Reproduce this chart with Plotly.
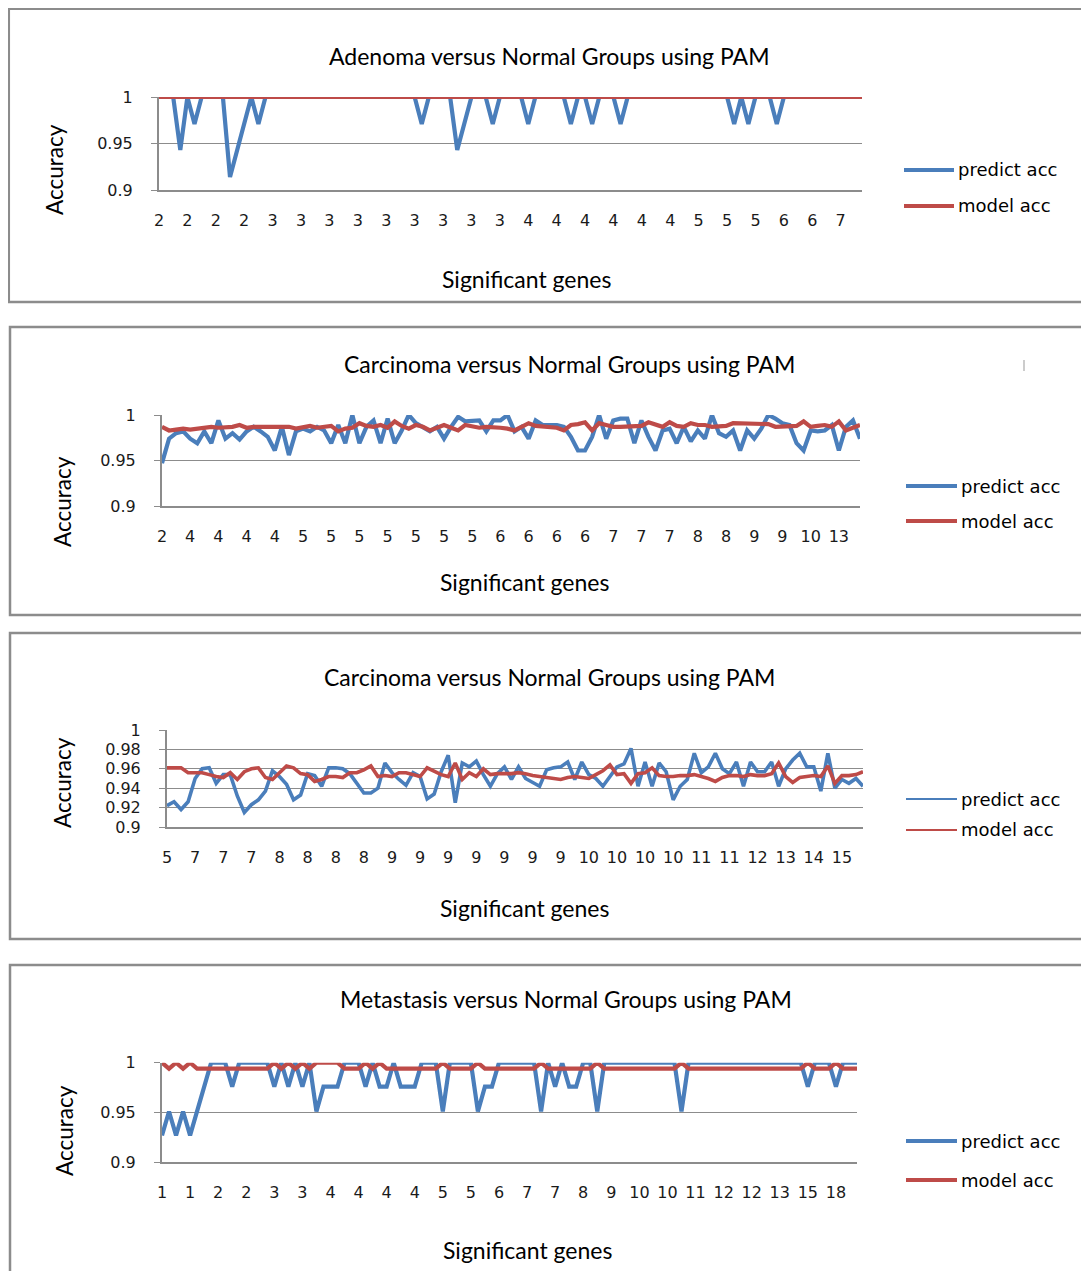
import plotly.graph_objects as go

# ---------------- data ----------------
titles = [
    "Adenoma versus Normal Groups using PAM",
    "Carcinoma versus Normal Groups using PAM",
    "Carcinoma versus Normal Groups using PAM",
    "Metastasis versus Normal Groups using PAM",
]
series_names = ["predict acc", "model acc"]

p1_ticks = ["2", "2", "2", "2", "3", "3", "3", "3", "3", "3", "3", "3", "3",
            "4", "4", "4", "4", "4", "4", "5", "5", "5", "6", "6", "7"]
p2_ticks = ["2", "4", "4", "4", "4", "5", "5", "5", "5", "5", "5", "5", "6",
            "6", "6", "6", "7", "7", "7", "8", "8", "9", "9", "10", "13"]
p3_ticks = ["5", "7", "7", "7", "8", "8", "8", "8", "9", "9", "9", "9", "9",
            "9", "9", "10", "10", "10", "10", "11", "11", "12", "13", "14", "15"]
p4_ticks = ["1", "1", "2", "2", "3", "3", "4", "4", "4", "4", "5", "5", "6",
            "7", "7", "8", "9", "10", "10", "11", "12", "12", "13", "15", "18"]

p1_predict = [
    1.000, 1.000, 1.000, 0.943, 1.000, 0.971, 1.000, 1.000, 1.000, 1.000,
    0.914, 0.943, 0.971, 1.000, 0.971, 1.000, 1.000, 1.000, 1.000, 1.000,
    1.000, 1.000, 1.000, 1.000, 1.000, 1.000, 1.000, 1.000, 1.000, 1.000,
    1.000, 1.000, 1.000, 1.000, 1.000, 1.000, 1.000, 0.971, 1.000, 1.000,
    1.000, 1.000, 0.943, 0.971, 1.000, 1.000, 1.000, 0.971, 1.000, 1.000,
    1.000, 1.000, 0.971, 1.000, 1.000, 1.000, 1.000, 1.000, 0.971, 1.000,
    1.000, 0.971, 1.000, 1.000, 1.000, 0.971, 1.000, 1.000, 1.000, 1.000,
    1.000, 1.000, 1.000, 1.000, 1.000, 1.000, 1.000, 1.000, 1.000, 1.000,
    1.000, 0.971, 1.000, 0.971, 1.000, 1.000, 1.000, 0.971, 1.000, 1.000,
    1.000, 1.000, 1.000, 1.000, 1.000, 1.000, 1.000, 1.000, 1.000, 1.000,
]
p1_model = [
    1.000, 1.000, 1.000, 1.000, 1.000, 1.000, 1.000, 1.000, 1.000, 1.000,
    1.000, 1.000, 1.000, 1.000, 1.000, 1.000, 1.000, 1.000, 1.000, 1.000,
    1.000, 1.000, 1.000, 1.000, 1.000, 1.000, 1.000, 1.000, 1.000, 1.000,
    1.000, 1.000, 1.000, 1.000, 1.000, 1.000, 1.000, 1.000, 1.000, 1.000,
    1.000, 1.000, 1.000, 1.000, 1.000, 1.000, 1.000, 1.000, 1.000, 1.000,
    1.000, 1.000, 1.000, 1.000, 1.000, 1.000, 1.000, 1.000, 1.000, 1.000,
    1.000, 1.000, 1.000, 1.000, 1.000, 1.000, 1.000, 1.000, 1.000, 1.000,
    1.000, 1.000, 1.000, 1.000, 1.000, 1.000, 1.000, 1.000, 1.000, 1.000,
    1.000, 1.000, 1.000, 1.000, 1.000, 1.000, 1.000, 1.000, 1.000, 1.000,
    1.000, 1.000, 1.000, 1.000, 1.000, 1.000, 1.000, 1.000, 1.000, 1.000,
]

p2_predict = [
    0.947, 0.974, 0.980, 0.982, 0.974, 0.969, 0.982, 0.969, 0.994, 0.974,
    0.980, 0.973, 0.982, 0.987, 0.982, 0.976, 0.961, 0.987, 0.956, 0.982,
    0.985, 0.982, 0.987, 0.983, 0.969, 0.989, 0.969, 1.000, 0.969, 0.987,
    0.994, 0.969, 0.996, 0.969, 0.983, 1.000, 0.991, 0.987, 0.982, 0.987,
    0.974, 0.987, 0.998, 0.993, 0.994, 0.994, 0.982, 0.994, 0.994, 1.000,
    0.982, 0.987, 0.974, 0.994, 0.989, 0.989, 0.989, 0.987, 0.976, 0.961,
    0.961, 0.976, 1.000, 0.974, 0.994, 0.996, 0.996, 0.969, 0.994, 0.976,
    0.961, 0.983, 0.985, 0.969, 0.987, 0.971, 0.983, 0.974, 1.000, 0.980,
    0.976, 0.983, 0.961, 0.983, 0.974, 0.985, 1.000, 0.996, 0.991, 0.989,
    0.969, 0.961, 0.983, 0.982, 0.983, 0.989, 0.961, 0.987, 0.994, 0.974,
]
p2_model = [
    0.987, 0.983, 0.984, 0.985, 0.984, 0.985, 0.986, 0.987, 0.986, 0.986,
    0.987, 0.989, 0.986, 0.987, 0.987, 0.987, 0.986, 0.986, 0.987, 0.985,
    0.986, 0.988, 0.986, 0.987, 0.988, 0.982, 0.985, 0.986, 0.991, 0.988,
    0.987, 0.989, 0.986, 0.993, 0.988, 0.985, 0.989, 0.987, 0.983, 0.986,
    0.989, 0.986, 0.983, 0.989, 0.987, 0.986, 0.987, 0.987, 0.986, 0.985,
    0.983, 0.987, 0.991, 0.988, 0.987, 0.987, 0.986, 0.983, 0.989, 0.990,
    0.992, 0.983, 0.991, 0.989, 0.987, 0.987, 0.987, 0.987, 0.988, 0.992,
    0.989, 0.987, 0.992, 0.988, 0.987, 0.991, 0.989, 0.989, 0.987, 0.987,
    0.988, 0.991, 0.991, 0.991, 0.991, 0.991, 0.990, 0.987, 0.987, 0.987,
    0.988, 0.993, 0.987, 0.988, 0.989, 0.987, 0.993, 0.983, 0.986, 0.989,
]

p3_predict = [
    0.922, 0.926, 0.918, 0.926, 0.950, 0.960, 0.961, 0.945, 0.954, 0.954,
    0.932, 0.915, 0.923, 0.928, 0.937, 0.958, 0.952, 0.944, 0.928, 0.933,
    0.955, 0.953, 0.942, 0.961, 0.961, 0.960, 0.955, 0.945, 0.935, 0.935,
    0.940, 0.966, 0.956, 0.949, 0.943, 0.956, 0.952, 0.929, 0.934, 0.957,
    0.974, 0.925, 0.966, 0.962, 0.968, 0.954, 0.942, 0.955, 0.962, 0.949,
    0.962, 0.950, 0.946, 0.942, 0.959, 0.961, 0.962, 0.967, 0.949, 0.967,
    0.954, 0.950, 0.942, 0.952, 0.962, 0.965, 0.981, 0.942, 0.967, 0.942,
    0.966, 0.957, 0.928, 0.942, 0.949, 0.976, 0.956, 0.962, 0.976, 0.960,
    0.955, 0.967, 0.942, 0.967, 0.957, 0.957, 0.967, 0.942, 0.960, 0.969,
    0.976, 0.962, 0.962, 0.937, 0.976, 0.940, 0.949, 0.945, 0.950, 0.942,
]
p3_model = [
    0.961, 0.961, 0.961, 0.956, 0.956, 0.956, 0.954, 0.952, 0.951, 0.956,
    0.949, 0.957, 0.960, 0.961, 0.951, 0.949, 0.956, 0.963, 0.961, 0.955,
    0.954, 0.947, 0.949, 0.952, 0.952, 0.951, 0.956, 0.956, 0.959, 0.963,
    0.952, 0.953, 0.952, 0.956, 0.956, 0.954, 0.952, 0.961, 0.957, 0.954,
    0.952, 0.966, 0.949, 0.956, 0.952, 0.960, 0.954, 0.955, 0.955, 0.955,
    0.956, 0.955, 0.953, 0.952, 0.951, 0.950, 0.949, 0.951, 0.952, 0.951,
    0.950, 0.954, 0.958, 0.964, 0.954, 0.955, 0.945, 0.955, 0.956, 0.961,
    0.953, 0.952, 0.952, 0.953, 0.953, 0.954, 0.952, 0.950, 0.947, 0.951,
    0.953, 0.953, 0.952, 0.954, 0.953, 0.953, 0.955, 0.966, 0.952, 0.946,
    0.951, 0.952, 0.953, 0.952, 0.963, 0.945, 0.953, 0.953, 0.954, 0.957,
]

p4_predict = [
    0.927, 0.951, 0.927, 0.951, 0.927, 0.951, 0.976, 1.000, 1.000, 1.000,
    0.976, 1.000, 1.000, 1.000, 1.000, 1.000, 0.976, 1.000, 0.976, 1.000,
    0.976, 1.000, 0.951, 0.976, 0.976, 0.976, 1.000, 1.000, 1.000, 0.976,
    1.000, 0.976, 0.976, 1.000, 0.976, 0.976, 0.976, 1.000, 1.000, 1.000,
    0.951, 1.000, 1.000, 1.000, 1.000, 0.951, 0.976, 0.976, 1.000, 1.000,
    1.000, 1.000, 1.000, 1.000, 0.951, 1.000, 0.976, 1.000, 0.976, 0.976,
    1.000, 1.000, 0.951, 1.000, 1.000, 1.000, 1.000, 1.000, 1.000, 1.000,
    1.000, 1.000, 1.000, 1.000, 0.951, 1.000, 1.000, 1.000, 1.000, 1.000,
    1.000, 1.000, 1.000, 1.000, 1.000, 1.000, 1.000, 1.000, 1.000, 1.000,
    1.000, 1.000, 0.976, 1.000, 1.000, 1.000, 0.976, 1.000, 1.000, 1.000,
]
p4_model = [
    1.000, 0.994, 1.000, 0.994, 1.000, 0.994, 0.994, 0.994, 0.994, 0.994,
    0.994, 0.994, 0.994, 0.994, 0.994, 0.994, 1.000, 0.994, 1.000, 0.994,
    1.000, 0.994, 1.000, 1.000, 1.000, 1.000, 0.994, 0.994, 0.994, 1.000,
    0.994, 1.000, 0.994, 0.994, 0.994, 0.994, 0.994, 0.994, 0.994, 0.994,
    1.000, 0.994, 0.994, 0.994, 0.994, 1.000, 0.994, 0.994, 0.994, 0.994,
    0.994, 0.994, 0.994, 0.994, 1.000, 0.994, 0.994, 0.994, 0.994, 0.994,
    0.994, 0.994, 1.000, 0.994, 0.994, 0.994, 0.994, 0.994, 0.994, 0.994,
    0.994, 0.994, 0.994, 0.994, 1.000, 0.994, 0.994, 0.994, 0.994, 0.994,
    0.994, 0.994, 0.994, 0.994, 0.994, 0.994, 0.994, 0.994, 0.994, 0.994,
    0.994, 0.994, 1.000, 0.994, 0.994, 0.994, 1.000, 0.994, 0.994, 0.994,
]

y_ticks_a = [0.9, 0.95, 1.0]
y_labels_a = ["0.9", "0.95", "1"]
y_ticks_b = [0.9, 0.92, 0.94, 0.96, 0.98, 1.0]
y_labels_b = ["0.9", "0.92", "0.94", "0.96", "0.98", "1"]

# ---------------- layout helpers ----------------
# The page body keeps its default 8 px margin, so the figure is 16 px smaller
# than the window and page coordinates are shifted by 8 px.
PAGE_MARGIN = 8
FW, FH = 1089 - 2 * PAGE_MARGIN, 1279 - 2 * PAGE_MARGIN
BLUE = "#4A7EBB"
RED = "#BE4B48"
GRID = "#8C8C8C"
BOX = "#8C8C8C"
TICKFONT = dict(family="DejaVu Sans", size=16, color="#1a1a1a")
TEXTFONT = "Lato"


def fx(p):
    return (p - PAGE_MARGIN) / FW


def fy(p):
    return 1 - (p - PAGE_MARGIN) / FH


panels = [
    dict(predict=p1_predict, model=p1_model, xt=p1_ticks, yt=y_ticks_a, yl=y_labels_a,
         plot=(159, 862, 97, 190), box=(8.8, 1110, 8.8, 302), title=(549, 56),
         xlab=(526, 279), ylab=(55, 170), leg=(904, 954, 170, 206), lw=4.2, legw=3.8),
    dict(predict=p2_predict, model=p2_model, xt=p2_ticks, yt=y_ticks_a, yl=y_labels_a,
         plot=(162, 860, 415, 506), box=(10, 1110, 327, 615), title=(569, 364),
         xlab=(524, 582), ylab=(62, 502), leg=(906, 957, 486, 521), lw=4.2, legw=3.8),
    dict(predict=p3_predict, model=p3_model, xt=p3_ticks, yt=y_ticks_b, yl=y_labels_b,
         plot=(167, 863, 730, 827), box=(10, 1110, 633, 939), title=(549, 677),
         xlab=(524, 908), ylab=(62, 783), leg=(906, 957, 799, 830), lw=3.6, legw=2),
    dict(predict=p4_predict, model=p4_model, xt=p4_ticks, yt=y_ticks_a, yl=y_labels_a,
         plot=(162, 857, 1062.7, 1162.3), box=(10, 1110, 965, 1320), title=(566, 999),
         xlab=(527, 1250), ylab=(64, 1131), leg=(906, 957, 1141, 1180), lw=4.2, legw=3.8),
]

fig = go.Figure()
shapes = []
annotations = []
layout_axes = {}

for k, p in enumerate(panels):
    n = k + 1
    xa = "x" if n == 1 else f"x{n}"
    ya = "y" if n == 1 else f"y{n}"
    xkey = "xaxis" if n == 1 else f"xaxis{n}"
    ykey = "yaxis" if n == 1 else f"yaxis{n}"
    idx = list(range(len(p["predict"])))
    fig.add_trace(go.Scatter(x=idx, y=p["predict"], mode="lines", name=series_names[0],
                             line=dict(color=BLUE, width=p["lw"]), xaxis=xa, yaxis=ya,
                             showlegend=False, cliponaxis=False))
    fig.add_trace(go.Scatter(x=idx, y=p["model"], mode="lines", name=series_names[1],
                             line=dict(color=RED, width=p["lw"]), xaxis=xa, yaxis=ya,
                             showlegend=False, cliponaxis=False))
    l, r, t, b = p["plot"]
    layout_axes[xkey] = dict(
        domain=[fx(l), fx(r)], anchor=ya, range=[0, len(idx) - 1],
        tickmode="array", tickvals=idx[::4], ticktext=p["xt"], tickangle=0,
        showgrid=False, zeroline=False, showline=True, linecolor=GRID, linewidth=1.5,
        ticks="", tickfont=TICKFONT, ticklabelstandoff=15, automargin=False,
    )
    layout_axes[ykey] = dict(
        domain=[fy(b), fy(t)], anchor=xa, range=[0.9, 1.0],
        tickmode="array", tickvals=p["yt"], ticktext=p["yl"],
        showgrid=True, gridcolor=GRID, gridwidth=1.3, zeroline=False,
        showline=True, linecolor=GRID, linewidth=2,
        ticks="outside", ticklen=6, tickcolor=GRID, tickwidth=1.3,
        tickfont=TICKFONT, ticklabelstandoff=15, automargin=False,
    )
    bx0, bx1, by0, by1 = p["box"]
    shapes.append(dict(type="rect", xref="paper", yref="paper",
                       x0=fx(bx0), x1=fx(bx1), y0=fy(by1), y1=fy(by0),
                       line=dict(color=BOX, width=2.5), fillcolor="rgba(0,0,0,0)", layer="below"))
    tx, ty = p["title"]
    annotations.append(dict(text=titles[k], x=fx(tx), y=fy(ty), xref="paper", yref="paper",
                            xanchor="center", yanchor="middle", showarrow=False,
                            font=dict(family=TEXTFONT, size=23, color="#000")))
    lx, ly = p["xlab"]
    annotations.append(dict(text="Significant genes", x=fx(lx), y=fy(ly), xref="paper", yref="paper",
                            xanchor="center", yanchor="middle", showarrow=False,
                            font=dict(family=TEXTFONT, size=23, color="#000")))
    vx, vy = p["ylab"]
    annotations.append(dict(text="Accuracy", x=fx(vx), y=fy(vy), xref="paper", yref="paper",
                            xanchor="center", yanchor="middle", showarrow=False, textangle=-90,
                            font=dict(family=TEXTFONT, size=22.5, color="#000")))
    gx0, gx1, gy1, gy2 = p["leg"]
    for gy, col, name in ((gy1, BLUE, series_names[0]), (gy2, RED, series_names[1])):
        shapes.append(dict(type="line", xref="paper", yref="paper",
                           x0=fx(gx0), x1=fx(gx1), y0=fy(gy), y1=fy(gy),
                           line=dict(color=col, width=p["legw"])))
        annotations.append(dict(text=name, x=fx(gx1 + 2), y=fy(gy), xref="paper", yref="paper",
                                xanchor="left", yanchor="middle", showarrow=False,
                                font=dict(family="DejaVu Sans", size=18, color="#000")))

# small stray tick mark in panel 2
shapes.append(dict(type="line", xref="paper", yref="paper",
                   x0=fx(1024), x1=fx(1024), y0=fy(371), y1=fy(360),
                   line=dict(color="#999999", width=1)))

fig.update_layout(
    width=FW, height=FH, margin=dict(l=0, r=0, t=0, b=0), autosize=False,
    paper_bgcolor="white", plot_bgcolor="white",
    shapes=shapes, annotations=annotations, showlegend=False,
    **layout_axes,
)

fig.write_html("out.html", config={"displayModeBar": False, "responsive": False})
